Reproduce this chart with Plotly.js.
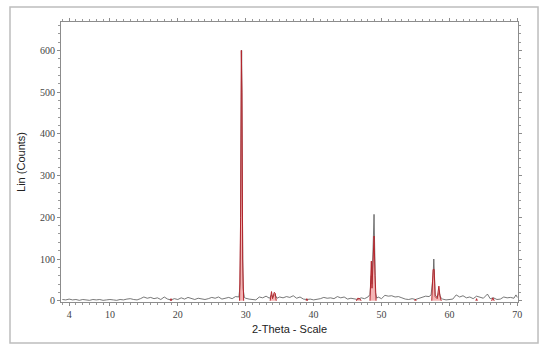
<!DOCTYPE html>
<html>
<head>
<meta charset="utf-8">
<script src="https://cdn.plot.ly/plotly-3.0.1.min.js"></script>
<style>
  body { margin: 0; background: #fff; }
  #plot { width: 550px; height: 353px; }
</style>
</head>
<body>
<div id="plot"></div>
<script>
// measured pattern (gray)
let measTheta = [3.0,3.5,4.0,4.5,5.0,5.5,6.0,6.5,7.0,7.5,8.0,8.5,9.0,9.5,10.0,10.5,11.0,11.5,12.0,12.5,13.0,13.5,14.0,14.5,15.0,15.5,16.0,16.5,17.0,17.5,18.0,18.5,19.0,19.5,20.0,20.5,21.0,21.5,22.0,22.5,23.0,23.5,24.0,24.5,25.0,25.5,26.0,26.5,27.0,27.5,28.0,28.5,29.0,29.2,29.3,29.4,29.5,29.6,29.8,30.0,30.5,31.0,31.5,32.0,32.5,33.0,33.5,33.8,34.0,34.3,34.6,35.0,35.5,36.0,36.5,37.0,37.5,38.0,38.5,39.0,39.5,40.0,40.5,41.0,41.5,42.0,42.5,43.0,43.5,44.0,44.5,45.0,45.5,46.0,46.5,47.0,47.5,48.0,48.3,48.5,48.6,48.8,48.9,49.0,49.1,49.3,49.5,50.0,50.5,51.0,51.5,52.0,52.5,53.0,53.5,54.0,54.5,55.0,55.5,56.0,56.5,57.0,57.3,57.6,57.7,57.8,57.9,58.2,58.5,58.7,59.0,59.5,60.0,60.5,61.0,61.5,62.0,62.5,63.0,63.5,64.0,64.5,65.0,65.6,66.0,66.5,67.0,67.5,68.0,68.5,69.0,69.5,69.8,70.0];
let measCounts = [3,2,4,2,3,1,3,2,1,3,2,3,1,2,3,2,1,3,2,4,5,3,2,5,9,6,8,5,7,3,9,4,2,5,3,7,4,8,5,3,6,4,3,5,8,6,9,4,6,8,5,10,9,40,330,600,260,30,8,6,4,3,2,9,7,11,6,14,8,15,6,9,7,10,8,12,6,9,4,3,4,2,3,5,8,6,7,5,10,7,9,4,6,5,3,7,5,9,15,60,40,150,207,120,20,6,9,5,13,11,12,9,10,7,4,3,5,3,6,9,11,10,14,60,100,60,14,8,20,8,4,2,3,4,14,9,12,7,9,5,11,8,6,16,5,7,3,4,9,7,8,6,14,8];

// reference phase peaks (red), null separates peaks
let refTheta = [18.9,19.0,19.1,null,29.1,29.25,29.35,29.45,29.55,29.7,null,33.6,33.8,33.95,34.2,34.35,34.5,null,38.9,39.0,39.1,null,46.3,46.5,46.8,47.0,null,48.3,48.5,48.6,48.75,48.9,49.05,49.2,null,54.9,55.0,55.1,null,57.4,57.6,57.75,57.9,58.2,58.45,58.6,58.8,null,63.9,64.0,64.1,null,66.2,66.4,66.6];
let refCounts = [0,5,0,null,0,200,600,500,100,0,null,0,22,5,20,18,0,null,0,5,0,null,0,6,5,0,null,0,95,30,100,155,60,0,null,0,4,0,null,0,75,75,10,5,35,12,0,null,0,5,0,null,0,7,0];

let xTicks = [4,10,20,30,40,50,60,70];

let traceMeas = {
  x: measTheta,
  y: measCounts,
  type: 'scatter',
  mode: 'lines',
  line: {color: '#555', width: 0.8},
  hoverinfo: 'skip'
};

let traceRef = {
  x: refTheta,
  y: refCounts,
  type: 'scatter',
  mode: 'lines',
  fill: 'tozeroy',
  fillcolor: 'rgba(235,120,120,0.55)',
  connectgaps: false,
  line: {color: '#b3262d', width: 1},
  hoverinfo: 'skip'
};

let axisCommon = {
  showgrid: false,
  zeroline: false,
  showline: true,
  linecolor: '#8c8c8c',
  linewidth: 1,
  mirror: 'ticks',
  ticks: 'outside',
  ticklen: 3,
  tickcolor: '#8c8c8c',
  tickfont: {family: 'Liberation Serif', size: 10, color: '#444'}
};

let layout = {
  width: 550,
  height: 353,
  margin: {l: 61, r: 32, t: 22, b: 51},
  paper_bgcolor: '#fff',
  plot_bgcolor: '#fff',
  showlegend: false,
  xaxis: Object.assign({}, axisCommon, {
    range: [2.8, 70.1],
    tickmode: 'array',
    tickvals: xTicks,
    ticktext: xTicks.map(String),
    minor: {ticks: 'outside', dtick: 1, tick0: 0, ticklen: 2, tickcolor: '#999'},
    title: {text: '2-Theta - Scale', standoff: 6, font: {family: 'Liberation Sans', size: 11, color: '#222'}}
  }),
  yaxis: Object.assign({}, axisCommon, {
    range: [-3, 668],
    tickvals: [0,100,200,300,400,500,600],
    minor: {ticks: 'outside', dtick: 20, tick0: 0, ticklen: 2, tickcolor: '#999'},
    title: {text: 'Lin (Counts)', standoff: 12, font: {family: 'Liberation Sans', size: 11, color: '#222'}}
  }),
  shapes: [{
    type: 'rect', xref: 'paper', yref: 'paper',
    x0: -0.1116, x1: 1.0438, y0: -0.146, y1: 1.0536,
    line: {color: '#bdbdbd', width: 1.5}
  }]
};

Plotly.newPlot('plot', [traceMeas, traceRef], layout, {staticPlot: true});
</script>
</body>
</html>
